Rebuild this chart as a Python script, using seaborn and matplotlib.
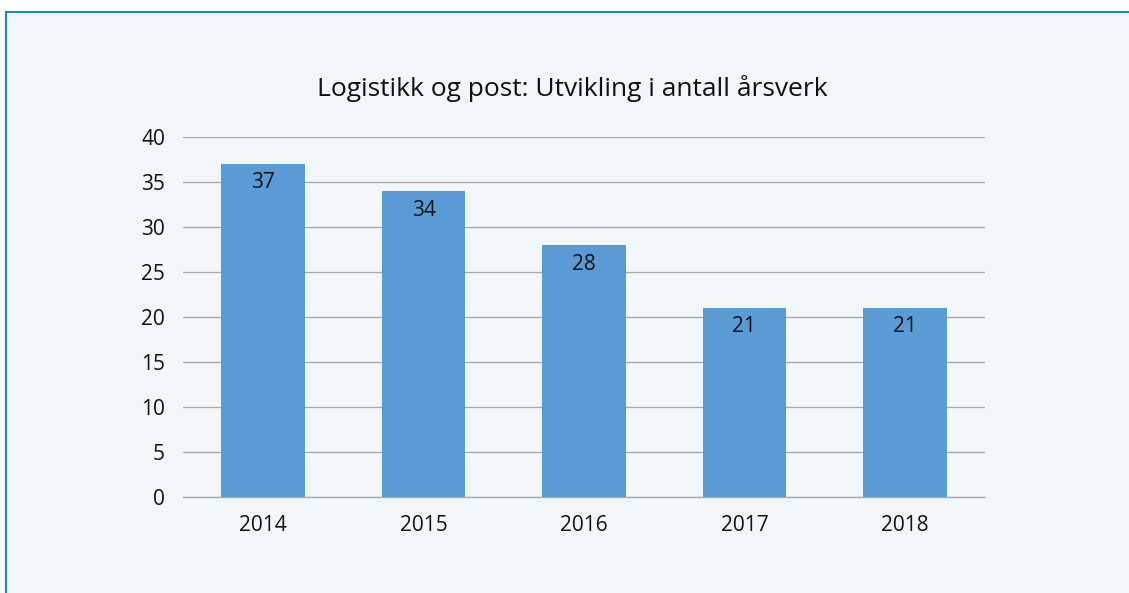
import matplotlib
matplotlib.use("Agg")
import matplotlib.pyplot as plt
from matplotlib.patches import Rectangle
import seaborn as sns
import pandas as pd

# Data
years = ["2014", "2015", "2016", "2017", "2018"]
aarsverk = [37, 34, 28, 21, 21]

df = pd.DataFrame({"year": years, "value": aarsverk})

sns.set_style("white")
plt.rcParams['font.family'] = ['Open Sans', 'DejaVu Sans']

bg = "#f1f6f9"
fig = plt.figure(figsize=(11.29, 5.93), dpi=100, facecolor="white")

# Framed panel
fig.patches.append(Rectangle((6/1129, -0.01), 1.1, 1 - 12/593 + 0.01,
                             transform=fig.transFigure, facecolor=bg,
                             edgecolor="#1b8fa8", linewidth=1.5, zorder=0))

ax = fig.add_axes([183/1129, 1 - 497/593, (985 - 183)/1129, (497 - 137)/593])
ax.set_zorder(2)
ax.patch.set_alpha(0)

sns.barplot(data=df, x="year", y="value", color="#5b9bd5", saturation=1,
            width=0.52, linewidth=0, ax=ax, zorder=3)

ax.set_ylim(0, 40)
ax.set_yticks(range(0, 41, 5))
ax.yaxis.grid(True, color="#a6a6a6", linewidth=0.9, zorder=0)
ax.set_axisbelow(True)
for s in ["top", "right", "left"]:
    ax.spines[s].set_visible(False)
ax.spines["bottom"].set_color("#a6a6a6")
ax.spines["bottom"].set_linewidth(0.9)
ax.tick_params(axis="both", length=0, labelsize=15, colors="#111111")
ax.tick_params(axis="y", pad=13)
ax.tick_params(axis="x", pad=13)
ax.set_xlabel("")
ax.set_ylabel("")

# value labels inside bar tops
for i, v in enumerate(aarsverk):
    ax.annotate(str(v), (i, v), xytext=(0, -19), textcoords="offset pixels",
                ha="center", va="center", fontsize=15, color="#111111", zorder=5)

fig.text(572/1129, 1 - 88/593, "Logistikk og post: Utvikling i antall årsverk",
         ha="center", va="center", fontsize=19, color="#111111")

fig.savefig("out.png", dpi=100, facecolor="white")
